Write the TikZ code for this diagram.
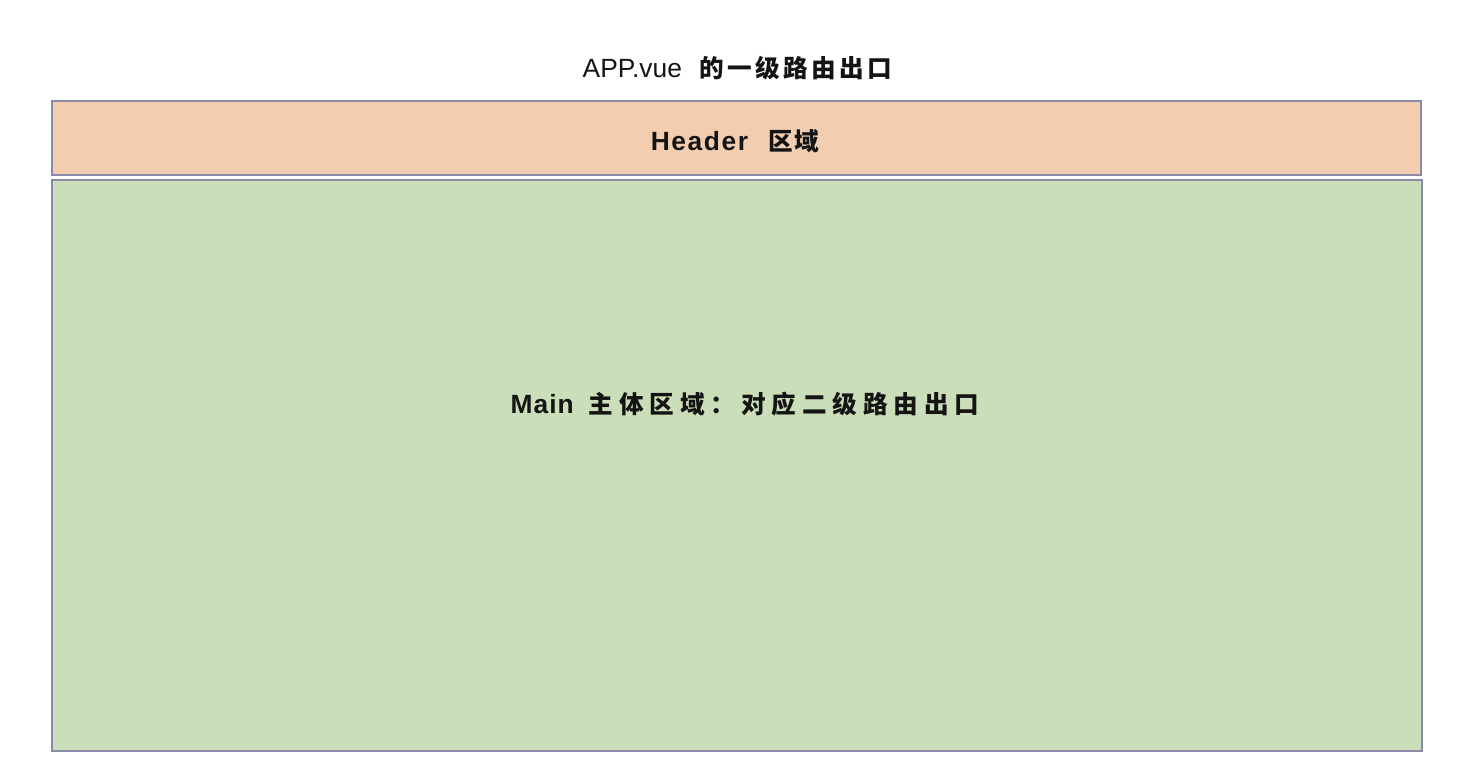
\documentclass[tikz,border=0pt]{standalone}
\usepackage{fontspec}
\setmainfont{Liberation Sans}
\newfontfamily\cjk{Noto Sans CJK SC}
\usepackage{tikz}
\definecolor{ink}{HTML}{141414}
\definecolor{edge}{HTML}{8A8AA8}
\definecolor{peach}{HTML}{F2CDB0}
\definecolor{sage}{HTML}{CADEB9}
\tikzset{
  region/.style={draw=edge, line width=1pt, inner sep=0pt, outer sep=0pt},
  headbox/.style={region, fill=peach, minimum width=27.38cm, minimum height=1.48cm},
  mainbox/.style={region, fill=sage, minimum width=27.40cm, minimum height=11.42cm},
  lab/.style={text=ink, font=\fontsize{15}{18}\selectfont, inner sep=0pt},
}

\begin{document}
\begin{tikzpicture}
\useasboundingbox (0,0) rectangle (29.62,15.32);
% title above the layout
\node[lab] (title) at (14.75,13.96)
  {APP.vue\hspace{0.35cm}{\cjk\bfseries\fontsize{14}{18}\selectfont\addfontfeature{LetterSpace=14}的一级路由出口}};
% first-level layout
\node[headbox] (header) at (14.73,12.56) {};
\node[lab, font=\fontsize{15}{18}\selectfont\bfseries] (headlab) at (14.7,12.5)
  {{\addfontfeature{LetterSpace=6}Header}\hspace{0.4cm}{\cjk\bfseries\fontsize{14}{18}\selectfont\addfontfeature{LetterSpace=8}区域}};
\node[mainbox] (main) at (14.74,6.01) {};
\node[lab, font=\fontsize{15}{18}\selectfont\bfseries] (mainlab) at (14.9,7.24)
  {{\addfontfeature{LetterSpace=4}Main}\hspace{0.3cm}{\cjk\bfseries\fontsize{14}{18}\selectfont\addfontfeature{LetterSpace=24}主体区域：对应二级路由出口}};
\end{tikzpicture}
\end{document}
